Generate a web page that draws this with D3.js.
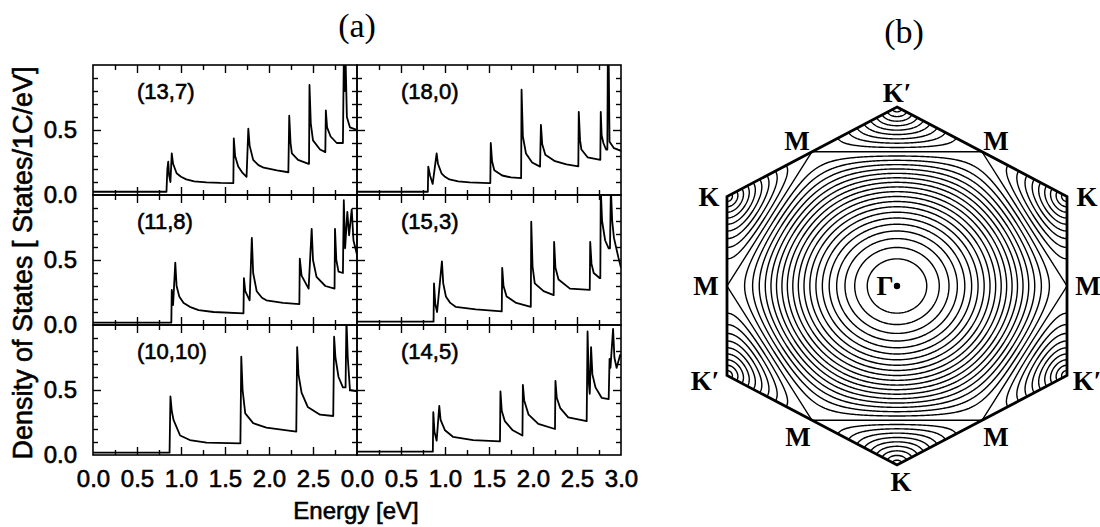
<!DOCTYPE html>
<html><head><meta charset="utf-8">
<script src="https://cdn.jsdelivr.net/npm/d3@7"></script>
<style>body{margin:0;background:#fff} svg{display:block;background:#fff}</style>
</head><body><svg id="c" width="1100" height="527"></svg>
<script>
// ---------------- DATA ----------------
const panelNames = ["(13,7)","(18,0)","(11,8)","(15,3)","(10,10)","(14,5)"];
const energyMajor = [0.5,1.0,1.5,2.0,2.5];
const energyMinor = [0.25,0.75,1.25,1.75,2.25,2.75];
const energyLabelsLeft = [0,0.5,1.0,1.5,2.0,2.5];
const energyLabelsRight = [0,0.5,1.0,1.5,2.0,2.5,3.0];
const dosMajor = [0.5];
const dosMinor = [0.1,0.2,0.3,0.4,0.6,0.7,0.8,0.9];
const dosLabels = [0,0.5];

const dos13_7 = [[0,0.025],[0.835,0.025],[0.845,0.2],[0.855,0.256],[0.865,0.15],[0.88,0.10],[0.895,0.32],[0.91,0.24],[0.95,0.167],[1.0,0.14],[1.06,0.12],[1.15,0.105],[1.29,0.097],[1.45,0.093],[1.595,0.092],[1.60,0.436],[1.615,0.30],[1.65,0.22],[1.70,0.17],[1.745,0.14],[1.765,0.51],[1.78,0.38],[1.82,0.27],[1.88,0.23],[1.94,0.21],[2.09,0.19],[2.22,0.175],[2.23,0.61],[2.245,0.40],[2.26,0.32],[2.33,0.27],[2.45,0.24],[2.455,0.24],[2.46,0.846],[2.475,0.55],[2.50,0.42],[2.58,0.35],[2.64,0.33],[2.646,0.65],[2.66,0.52],[2.70,0.45],[2.77,0.40],[2.84,0.40],[2.85,1.05],[2.865,0.80],[2.87,1.05],[2.885,0.60],[2.92,0.52],[3.0,0.50]];
const dos18_0 = [[0,0.025],[0.805,0.025],[0.81,0.218],[0.83,0.15],[0.86,0.085],[0.905,0.32],[0.92,0.24],[0.96,0.167],[1.0,0.14],[1.05,0.12],[1.15,0.105],[1.28,0.097],[1.50,0.092],[1.515,0.092],[1.52,0.40],[1.535,0.26],[1.56,0.19],[1.65,0.15],[1.75,0.135],[1.865,0.13],[1.87,0.81],[1.885,0.45],[1.92,0.32],[1.99,0.25],[2.08,0.218],[2.09,0.54],[2.105,0.39],[2.14,0.31],[2.25,0.26],[2.38,0.235],[2.515,0.22],[2.52,0.64],[2.535,0.42],[2.55,0.35],[2.62,0.29],[2.765,0.27],[2.77,0.64],[2.78,0.46],[2.80,0.40],[2.83,0.35],[2.845,0.35],[2.85,1.05],[2.86,1.05],[2.87,0.41],[2.92,0.36],[3.0,0.34]];
const dos11_8 = [[0,0.018],[0.89,0.018],[0.895,0.27],[0.91,0.154],[0.935,0.48],[0.95,0.30],[0.98,0.22],[1.03,0.17],[1.10,0.14],[1.2,0.115],[1.37,0.10],[1.71,0.09],[1.715,0.36],[1.73,0.26],[1.78,0.19],[1.805,0.67],[1.82,0.40],[1.86,0.26],[1.92,0.21],[1.97,0.19],[2.16,0.17],[2.345,0.16],[2.35,0.51],[2.37,0.38],[2.45,0.28],[2.485,0.74],[2.50,0.50],[2.54,0.37],[2.64,0.30],[2.745,0.28],[2.75,0.74],[2.765,0.50],[2.79,0.41],[2.84,0.40],[2.85,0.96],[2.865,0.59],[2.89,0.87],[2.91,0.69],[2.94,0.89],[2.96,0.65],[3.0,0.54]];
const dos15_3 = [[0,0.026],[0.87,0.026],[0.875,0.32],[0.89,0.16],[0.91,0.10],[0.965,0.49],[0.98,0.32],[1.01,0.22],[1.06,0.17],[1.12,0.14],[1.35,0.12],[1.645,0.105],[1.65,0.44],[1.665,0.30],[1.70,0.22],[1.81,0.17],[1.975,0.14],[1.98,0.795],[1.995,0.45],[2.02,0.32],[2.12,0.26],[2.235,0.23],[2.24,0.64],[2.255,0.44],[2.29,0.35],[2.42,0.28],[2.645,0.27],[2.65,0.64],[2.665,0.47],[2.69,0.40],[2.76,0.36],[2.765,0.36],[2.77,1.05],[2.785,0.80],[2.82,0.65],[2.86,0.59],[2.875,0.59],[2.885,1.05],[2.90,0.80],[2.92,0.67],[2.97,0.52],[3.0,0.44]];
const dos10_10 = [[0,0.018],[0.87,0.018],[0.88,0.45],[0.895,0.34],[0.915,0.27],[0.99,0.15],[1.10,0.115],[1.29,0.095],[1.675,0.09],[1.685,0.756],[1.70,0.50],[1.73,0.32],[1.82,0.245],[1.97,0.21],[2.31,0.18],[2.32,0.83],[2.335,0.62],[2.37,0.48],[2.44,0.37],[2.58,0.31],[2.73,0.30],[2.74,0.91],[2.755,0.75],[2.79,0.60],[2.84,0.52],[2.87,0.52],[2.88,1.05],[2.895,0.75],[2.92,0.50],[3.0,0.49]];
const dos14_5 = [[0,0.026],[0.862,0.026],[0.867,0.33],[0.88,0.18],[0.905,0.11],[0.935,0.377],[0.95,0.27],[1.00,0.19],[1.09,0.14],[1.32,0.115],[1.625,0.105],[1.63,0.49],[1.645,0.34],[1.68,0.26],[1.77,0.19],[1.88,0.15],[1.885,0.54],[1.90,0.42],[1.95,0.31],[2.06,0.24],[2.25,0.20],[2.255,0.57],[2.27,0.44],[2.31,0.36],[2.40,0.29],[2.61,0.26],[2.62,0.95],[2.635,0.55],[2.645,0.47],[2.66,0.83],[2.675,0.62],[2.71,0.52],[2.78,0.44],[2.86,0.43],[2.87,0.74],[2.88,0.67],[2.91,0.97],[2.925,0.75],[2.95,0.67],[2.99,0.77],[3.0,0.75]];
const dosSeries = [dos13_7, dos18_0, dos11_8, dos15_3, dos10_10, dos14_5];

// Brillouin zone (b)
const energyLevels = [0.1,0.2,0.3,0.4,0.5,0.6,0.7,0.8,0.9,1.1,1.2,1.3,1.4,1.5,1.6,1.7,1.8,1.9,2.0,2.1,2.2,2.3,2.4,2.5,2.6,2.7,2.8,2.9];
const cornerAngles = [90,30,-30,-90,-150,150];
const cornerNames = ["K\u2032","K","K\u2032","K","K\u2032","K"];
const edgeAngles = [60,0,-60,-120,180,120];
const edgeNames = ["M","M","M","M","M","M"];

// ---------------- DRAW ----------------
const svg = d3.select("#c");
const sans = "'Liberation Sans', Arial, Helvetica, sans-serif";
const serif = "'Liberation Serif', 'Times New Roman', serif";
const colX = [93,357], rowY = [65,195,325], pw = 264, ph = 130;
const heavy = s=>s.attr("stroke","#000").attr("stroke-width",0.6).attr("fill","#000");

dosSeries.forEach((data,i)=>{
  const col = i%2, row = Math.floor(i/2);
  const x = d3.scaleLinear().domain([0,3]).range([colX[col], colX[col]+pw]);
  const y = d3.scaleLinear().domain([0,1]).range([rowY[row]+ph, rowY[row]]);
  const g = svg.append("g");
  const cid = "clip"+i;
  svg.append("clipPath").attr("id",cid).append("rect")
    .attr("x",x(0)).attr("y",y(1)).attr("width",pw).attr("height",ph);
  g.append("path").datum(data).attr("clip-path",`url(#${cid})`)
    .attr("d", d3.line().x(d=>x(d[0])).y(d=>y(d[1])))
    .attr("fill","none").attr("stroke","#000").attr("stroke-width",1.8).attr("stroke-linejoin","round");
  const ax = (axis,tr)=>g.append("g").attr("transform",tr).call(axis)
      .call(s=>s.select(".domain").remove())
      .call(s=>s.selectAll("line").attr("stroke","#000").attr("stroke-width",1.4));
  ax(d3.axisBottom(x).tickValues(energyMajor).tickSize(-8).tickFormat(""), `translate(0,${y(0)})`);
  ax(d3.axisBottom(x).tickValues(energyMinor).tickSize(-5).tickFormat(""), `translate(0,${y(0)})`);
  ax(d3.axisTop(x).tickValues(energyMajor).tickSize(-8).tickFormat(""), `translate(0,${y(1)})`);
  ax(d3.axisTop(x).tickValues(energyMinor).tickSize(-5).tickFormat(""), `translate(0,${y(1)})`);
  ax(d3.axisLeft(y).tickValues(dosMajor).tickSize(-8).tickFormat(""), `translate(${x(0)},0)`);
  ax(d3.axisLeft(y).tickValues(dosMinor).tickSize(-5).tickFormat(""), `translate(${x(0)},0)`);
  ax(d3.axisRight(y).tickValues(dosMajor).tickSize(-8).tickFormat(""), `translate(${x(3)},0)`);
  ax(d3.axisRight(y).tickValues(dosMinor).tickSize(-5).tickFormat(""), `translate(${x(3)},0)`);
  g.append("rect").attr("x",x(0)).attr("y",y(1)).attr("width",pw).attr("height",ph)
    .attr("fill","none").attr("stroke","#000").attr("stroke-width",1.6);
  g.append("text").attr("x",x(0)+44).attr("y",y(1)+34).text(panelNames[i])
    .attr("font-family",sans).attr("font-size",22).call(heavy);
  if(row===2){
    g.append("g").attr("transform",`translate(0,${y(0)})`)
      .call(d3.axisBottom(x).tickValues(col===0?energyLabelsLeft:energyLabelsRight).tickSize(0).tickPadding(15).tickFormat(d3.format(".1f")))
      .call(s=>s.select(".domain").remove())
      .call(s=>s.selectAll("text").attr("font-family",sans).attr("font-size",24).call(heavy));
  }
  if(col===0){
    g.append("g").attr("transform",`translate(${x(0)},0)`)
      .call(d3.axisLeft(y).tickValues(dosLabels).tickSize(0).tickPadding(16).tickFormat(d3.format(".1f")))
      .call(s=>s.select(".domain").remove())
      .call(s=>s.selectAll("text").attr("font-family",sans).attr("font-size",24).call(heavy));
  }
});

svg.append("text").attr("x",356).attr("y",519).attr("text-anchor","middle")
  .attr("font-family",sans).attr("font-size",24).text("Energy [eV]").call(heavy);
svg.append("text").attr("transform","translate(32,263) rotate(-90)").attr("text-anchor","middle")
  .attr("font-family",sans).attr("font-size",27).text("Density of States [ States/1C/eV]").call(heavy);
svg.append("text").attr("x",357).attr("y",37).attr("text-anchor","middle")
  .attr("font-family",serif).attr("font-size",34).text("(a)");
svg.append("text").attr("x",904).attr("y",43).attr("text-anchor","middle")
  .attr("font-family",serif).attr("font-size",34).text("(b)");

// ---- Brillouin zone contour plot ----
const kM = 2*Math.PI/Math.sqrt(3), kK = 4*Math.PI/3;
const kx = d3.scaleLinear().domain([-kM,kM]).range([727,1067]);
const ky = d3.scaleLinear().domain([-kK,kK]).range([465,107]);
const gx0 = 712, gy0 = 92, nx = 372, ny = 390;
const vals = new Float64Array(nx*ny);
const s3 = Math.sqrt(3);
for(let j=0;j<ny;j++){
  for(let i=0;i<nx;i++){
    const X = kx.invert(gx0+i), Y = ky.invert(gy0+j);
    const c1 = X*s3/2 + Y/2, c2 = X*s3/2 - Y/2, c3 = Y;
    vals[j*nx+i] = Math.sqrt(Math.max(0, 3+2*Math.cos(c1)+2*Math.cos(c2)+2*Math.cos(c3)));
  }
}
const contours = d3.contours().size([nx,ny]).thresholds(energyLevels)(vals);
const proj = d3.geoTransform({point(px,py){ this.stream.point(gx0+px-0.5, gy0+py-0.5); }});
const gpath = d3.geoPath(proj);
const rad = a=>a*Math.PI/180;
const corners = cornerAngles.map(a=>[kx(kK*Math.cos(rad(a))), ky(kK*Math.sin(rad(a)))]);
const edges = edgeAngles.map(a=>[kx(kM*Math.cos(rad(a))), ky(kM*Math.sin(rad(a)))]);
svg.append("clipPath").attr("id","hexclip").append("polygon").attr("points",corners.map(p=>p.join(",")).join(" "));
const bz = svg.append("g");
bz.append("g").attr("clip-path","url(#hexclip)").selectAll("path").data(contours).join("path")
  .attr("d",gpath).attr("fill","none").attr("stroke","#000").attr("stroke-width",1.4);
bz.append("polygon").attr("points",edges.map(p=>p.join(",")).join(" "))
  .attr("fill","none").attr("stroke","#000").attr("stroke-width",1.4);
bz.append("polygon").attr("points",corners.map(p=>p.join(",")).join(" "))
  .attr("fill","none").attr("stroke","#000").attr("stroke-width",2.8).attr("stroke-linejoin","miter");
// Labels
const cornerOff = [[0,-14],[20,0],[20,5],[4,17],[-22,5],[-18,0]];
const edgeOff = [[14,-11],[21,0],[14,17],[-14,17],[-21,0],[-15,-11]];
const lbl = (x,y,t)=>bz.append("text").attr("x",x).attr("y",y)
  .attr("text-anchor","middle").attr("dominant-baseline","central")
  .attr("font-family",serif).attr("font-weight","bold").attr("font-size",27).text(t);
corners.forEach((p,i)=>lbl(p[0]+cornerOff[i][0], p[1]+cornerOff[i][1], cornerNames[i]));
edges.forEach((p,i)=>lbl(p[0]+edgeOff[i][0], p[1]+edgeOff[i][1], edgeNames[i]));
bz.append("circle").attr("cx",kx(0)).attr("cy",ky(0)).attr("r",3.2).attr("fill","#000");
lbl(kx(0)-12, ky(0), "\u0393");
</script></body></html>
